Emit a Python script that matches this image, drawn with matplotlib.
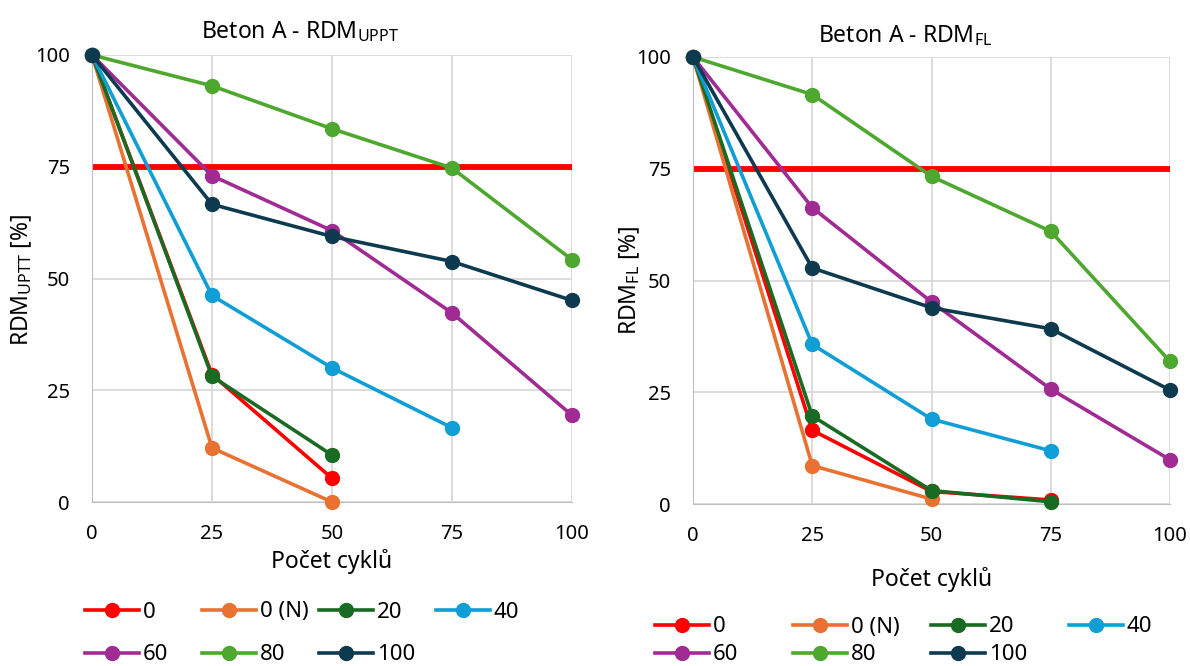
import matplotlib
matplotlib.use("Agg")
import matplotlib.pyplot as plt
from matplotlib.lines import Line2D

plt.rcParams['font.family'] = ['Noto Sans', 'DejaVu Sans']
plt.rcParams['mathtext.fontset'] = 'custom'
plt.rcParams['mathtext.rm'] = 'Noto Sans'
plt.rcParams['mathtext.it'] = 'Noto Sans'

cycles = [0, 25, 50, 75, 100]
series_names = ["0", "0 (N)", "20", "40", "60", "80", "100"]
colors = ["#FF0000", "#E97132", "#196B24", "#0F9ED5", "#A02B93", "#4EA72E", "#0E3A4F"]

# Left: RDM_UPPT
uppt_0 = [100, 28.5, 5.3]
uppt_0N = [100, 12.1, 0.0]
uppt_20 = [100, 28.1, 10.5]
uppt_40 = [100, 46.2, 30.0, 16.6]
uppt_60 = [100, 73.0, 60.7, 42.3, 19.4]
uppt_80 = [100, 93.1, 83.5, 74.7, 54.2]
uppt_100 = [100, 66.6, 59.4, 53.8, 45.1]

# Right: RDM_FL
fl_0 = [100, 16.5, 2.8, 0.9]
fl_0N = [100, 8.6, 1.1]
fl_20 = [100, 19.7, 3.0, 0.5]
fl_40 = [100, 35.7, 19.0, 11.9]
fl_60 = [100, 66.3, 45.2, 25.7, 9.9]
fl_80 = [100, 91.6, 73.3, 61.0, 31.9]
fl_100 = [100, 52.8, 43.9, 39.2, 25.5]

limit = 75
ticks = [0, 25, 50, 75, 100]

left_data = [uppt_0, uppt_0N, uppt_20, uppt_40, uppt_60, uppt_80, uppt_100]
right_data = [fl_0, fl_0N, fl_20, fl_40, fl_60, fl_80, fl_100]

FS_TICK = 14.5
FS = 16.5
fig = plt.figure(figsize=(11.9, 6.66), dpi=100)
W, H = 1190, 666
axL = fig.add_axes([92 / W, 1 - 502 / H, 480 / W, 447 / H])
axR = fig.add_axes([693 / W, 1 - 504 / H, 477 / W, 447 / H])

def style(ax):
    ax.set_xlim(0, 100)
    ax.set_ylim(0, 100)
    ax.set_xticks(ticks)
    ax.set_yticks(ticks)
    ax.grid(True, color="#D9D9D9", linewidth=1.3)
    ax.set_axisbelow(True)
    for s in ax.spines.values():
        s.set_visible(False)
    ax.spines['left'].set_visible(True)
    ax.spines['bottom'].set_visible(True)
    ax.spines['left'].set_color("#BFBFBF")
    ax.spines['bottom'].set_color("#BFBFBF")
    ax.tick_params(length=0, labelsize=FS_TICK, colors="black")
    ax.tick_params(axis='x', pad=16)
    ax.tick_params(axis='y', pad=16)

for ax, data in [(axL, left_data), (axR, right_data)]:
    style(ax)
    ax.axhline(limit, color="#FF0000", linewidth=4.2, zorder=2)
    for vals, c in zip(data, colors):
        ax.plot(cycles[:len(vals)], vals, color=c, linewidth=2.6, marker='o',
                markersize=10, clip_on=False, zorder=3)

axL.set_title(r"Beton A - RDM$_{\mathrm{UPPT}}$", fontsize=FS, x=0.433, y=1.0, pad=12)
axR.set_title(r"Beton A - RDM$_{\mathrm{FL}}$", fontsize=FS, x=0.444, y=1.0, pad=11)
axL.set_ylabel(r"RDM$_{\mathrm{UPTT}}$ [%]", fontsize=FS)
axR.set_ylabel(r"RDM$_{\mathrm{FL}}$ [%]", fontsize=FS)
axL.yaxis.set_label_coords(-0.146, 0.497)
axR.yaxis.set_label_coords(-0.132, 0.5)
axL.set_xlabel("Počet cyklů", fontsize=FS, va='center')
axR.set_xlabel("Počet cyklů", fontsize=FS, va='center')
axL.xaxis.set_label_coords(0.5, -(562 - 502) / 447)
axR.xaxis.set_label_coords(0.5, -(580 - 504) / 447)
axL.yaxis.label.set_va('center')
axR.yaxis.label.set_va('center')

# legends: one entry per position, row-major like the reference
def add_legend(x0, pitch, rows_y):
    for i, (name, c) in enumerate(zip(series_names, colors)):
        r, col = divmod(i, 4)
        h = Line2D([0], [0], color=c, linewidth=2.6, marker='o', markersize=10)
        fig.legend([h], [name], loc='center left',
                   bbox_to_anchor=((x0 + pitch * col) / W, 1 - rows_y[r] / H),
                   frameon=False, fontsize=FS - 0.5, handlelength=2.45, handletextpad=0.15,
                   borderpad=0, borderaxespad=0)

add_legend(85, 117, [612, 655])
add_legend(655, 138, [627, 655])

fig.savefig("out.png", dpi=100)
